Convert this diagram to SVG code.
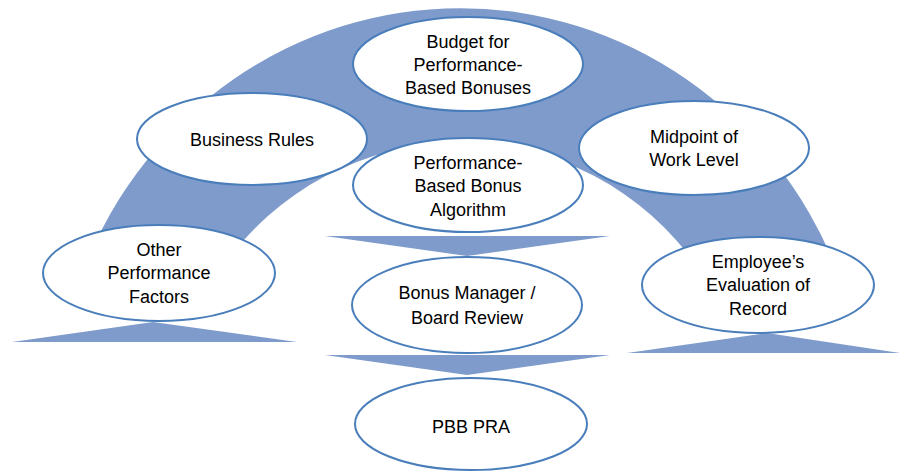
<svg xmlns="http://www.w3.org/2000/svg" width="900" height="472" viewBox="0 0 900 472">
<style>
.shape{fill:#7f9bcc;stroke:none}
.node ellipse{fill:#ffffff;stroke:#4a7ebb;stroke-width:2}
.node text{font-family:"Liberation Sans",Arial,sans-serif;font-size:18px;fill:#000000;text-anchor:middle}
</style>
<rect width="900" height="472" fill="#ffffff"/>
<g id="connectors">
<path class="shape" d="M 84 268 A 407 421 0 0 1 836 268 L 698 268 A 289 289 0 0 0 222 268 Z"/>
<polygon class="shape" points="12,342 297,342 153,322"/>
<polygon class="shape" points="627,353 900,353 767,333"/>
<polygon class="shape" points="325,236 610,236 467,256"/>
<polygon class="shape" points="325,355 610,355 467,375"/>
</g>
<g id="node-budget" class="node">
<ellipse cx="468" cy="64" rx="115" ry="47"/>
<text x="468" y="48">Budget for</text>
<text x="468" y="71">Performance-</text>
<text x="468" y="94">Based Bonuses</text>
</g>
<g id="node-business-rules" class="node">
<ellipse cx="252" cy="139" rx="115" ry="46"/>
<text x="252" y="146">Business Rules</text>
</g>
<g id="node-midpoint" class="node">
<ellipse cx="694" cy="148" rx="115" ry="47"/>
<text x="694" y="143">Midpoint of</text>
<text x="694" y="166">Work Level</text>
</g>
<g id="node-algorithm" class="node">
<ellipse cx="468" cy="185" rx="115" ry="47"/>
<text x="468" y="169">Performance-</text>
<text x="468" y="192">Based Bonus</text>
<text x="468" y="216">Algorithm</text>
</g>
<g id="node-other" class="node">
<ellipse cx="159" cy="273" rx="116" ry="48"/>
<text x="159" y="256">Other</text>
<text x="159" y="279">Performance</text>
<text x="159" y="303">Factors</text>
</g>
<g id="node-employee" class="node">
<ellipse cx="758" cy="285" rx="116" ry="48"/>
<text x="758" y="268">Employee’s</text>
<text x="758" y="291">Evaluation of</text>
<text x="758" y="315">Record</text>
</g>
<g id="node-bonus-manager" class="node">
<ellipse cx="467" cy="305" rx="115" ry="48"/>
<text x="467" y="299">Bonus Manager /</text>
<text x="467" y="324">Board Review</text>
</g>
<g id="node-pbb-pra" class="node">
<ellipse cx="471" cy="424" rx="116" ry="46"/>
<text x="471" y="433">PBB PRA</text>
</g>
</svg>
